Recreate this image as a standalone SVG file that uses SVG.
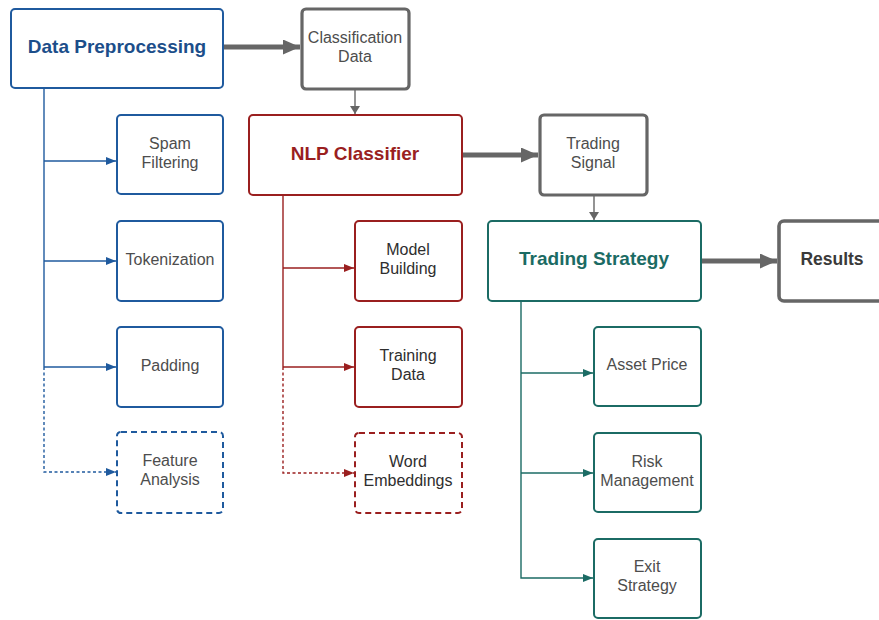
<svg xmlns="http://www.w3.org/2000/svg" width="879" height="620" viewBox="0 0 879 620">
<defs>
<style>
text{font-family:"Liberation Sans",Arial,sans-serif;text-anchor:middle;dominant-baseline:central}
.t{font-size:16px;fill:#4d4d4d}
.td{font-size:16px;fill:#2e2e2e}
.h{font-size:19px;font-weight:bold}
.bb{fill:#fff;stroke:#1f5a9e;stroke-width:2}
.rb{fill:#fff;stroke:#9a1f1f;stroke-width:2}
.gb{fill:#fff;stroke:#1b6b64;stroke-width:2}
.kb{fill:#fff;stroke:#666;stroke-width:3.2}
.dash{stroke-dasharray:6 4}
.bl{fill:none;stroke:#1f5a9e;stroke-width:1.4}
.rl{fill:none;stroke:#9a1f1f;stroke-width:1.4}
.gl{fill:none;stroke:#1b6b64;stroke-width:1.4}
.kl{fill:none;stroke:#666;stroke-width:1.4}
.thick{fill:none;stroke:#666;stroke-width:5}
.dl{stroke-dasharray:3 2.5}
</style>
<marker id="ab" viewBox="0 0 10 8" refX="10" refY="4" markerWidth="10" markerHeight="8" markerUnits="userSpaceOnUse" orient="auto"><path d="M0,0L10,4L0,8z" fill="#1f5a9e"/></marker>
<marker id="ar" viewBox="0 0 10 8" refX="10" refY="4" markerWidth="10" markerHeight="8" markerUnits="userSpaceOnUse" orient="auto"><path d="M0,0L10,4L0,8z" fill="#9a1f1f"/></marker>
<marker id="ag" viewBox="0 0 10 8" refX="10" refY="4" markerWidth="10" markerHeight="8" markerUnits="userSpaceOnUse" orient="auto"><path d="M0,0L10,4L0,8z" fill="#1b6b64"/></marker>
<marker id="ak" viewBox="0 0 8 10" refX="8" refY="5" markerWidth="8" markerHeight="10" markerUnits="userSpaceOnUse" orient="auto"><path d="M0,0L8,5L0,10z" fill="#666"/></marker>
<marker id="at" viewBox="0 0 17 15" refX="17" refY="7.5" markerWidth="17" markerHeight="15" markerUnits="userSpaceOnUse" orient="auto"><path d="M0,0L17,7.5L0,15z" fill="#666"/></marker>
</defs>
<rect width="879" height="620" fill="#fff"/>

<g id="connectors">
<line class="thick" x1="224" y1="47" x2="300" y2="47" marker-end="url(#at)"/>
<line class="thick" x1="463" y1="155" x2="538" y2="155" marker-end="url(#at)"/>
<line class="thick" x1="702" y1="261" x2="777" y2="261" marker-end="url(#at)"/>
<line class="kl" x1="355" y1="90" x2="355" y2="114" marker-end="url(#ak)"/>
<line class="kl" x1="594" y1="196" x2="594" y2="220" marker-end="url(#ak)"/>

<path class="bl" d="M44,89V367"/>
<path class="bl dl" d="M44,367V472H116" marker-end="url(#ab)"/>
<path class="bl" d="M44,161H116" marker-end="url(#ab)"/>
<path class="bl" d="M44,261H116" marker-end="url(#ab)"/>
<path class="bl" d="M44,367H116" marker-end="url(#ab)"/>

<path class="rl" d="M283,196V367"/>
<path class="rl dl" d="M283,367V473H354" marker-end="url(#ar)"/>
<path class="rl" d="M283,268H354" marker-end="url(#ar)"/>
<path class="rl" d="M283,367H354" marker-end="url(#ar)"/>

<path class="gl" d="M521,302V578H593" marker-end="url(#ag)"/>
<path class="gl" d="M521,373H593" marker-end="url(#ag)"/>
<path class="gl" d="M521,473H593" marker-end="url(#ag)"/>
</g>

<g id="data-preprocessing"><rect class="bb" x="11" y="9" width="212" height="79" rx="4"/><text class="h" x="117" y="46" fill="#1c4e8a">Data Preprocessing</text></g>
<g id="classification-data"><rect class="kb" x="302" y="9" width="107" height="80" rx="4"/><text class="t" x="355" y="37">Classification</text><text class="t" x="355" y="56">Data</text></g>
<g id="spam-filtering"><rect class="bb" x="117" y="115" width="106" height="79" rx="4"/><text class="t" x="170" y="143">Spam</text><text class="t" x="170" y="162">Filtering</text></g>
<g id="tokenization"><rect class="bb" x="117" y="221" width="106" height="80" rx="4"/><text class="t" x="170" y="259">Tokenization</text></g>
<g id="padding"><rect class="bb" x="117" y="327" width="106" height="80" rx="4"/><text class="t" x="170" y="365">Padding</text></g>
<g id="feature-analysis"><rect class="bb dash" x="117" y="432" width="106" height="81" rx="4"/><text class="t" x="170" y="460">Feature</text><text class="t" x="170" y="479">Analysis</text></g>

<g id="nlp-classifier"><rect class="rb" x="249" y="115" width="213" height="80" rx="4"/><text class="h" x="355" y="153" fill="#9a1f1f">NLP Classifier</text></g>
<g id="model-building"><rect class="rb" x="355" y="221" width="107" height="80" rx="4"/><text class="td" x="408" y="249">Model</text><text class="td" x="408" y="268">Building</text></g>
<g id="training-data"><rect class="rb" x="355" y="327" width="107" height="80" rx="4"/><text class="td" x="408" y="355">Training</text><text class="td" x="408" y="374">Data</text></g>
<g id="word-embeddings"><rect class="rb dash" x="355" y="433" width="107" height="80" rx="4"/><text class="td" x="408" y="461">Word</text><text class="td" x="408" y="480">Embeddings</text></g>

<g id="trading-signal"><rect class="kb" x="540" y="115" width="107" height="80" rx="4"/><text class="t" x="593" y="143">Trading</text><text class="t" x="593" y="162">Signal</text></g>
<g id="trading-strategy"><rect class="gb" x="488" y="221" width="213" height="80" rx="4"/><text class="h" x="594" y="258" fill="#1b6b64">Trading Strategy</text></g>
<g id="results"><rect x="779" y="221" width="120" height="80" rx="5" fill="#fff" stroke="#666" stroke-width="3.6"/><text class="h" x="832" y="259" fill="#3a3a3a" style="font-size:17.5px">Results</text></g>
<g id="asset-price"><rect class="gb" x="594" y="327" width="107" height="79" rx="4"/><text class="t" x="647" y="364">Asset Price</text></g>
<g id="risk-management"><rect class="gb" x="594" y="433" width="107" height="79" rx="4"/><text class="t" x="647" y="461">Risk</text><text class="t" x="647" y="480">Management</text></g>
<g id="exit-strategy"><rect class="gb" x="594" y="539" width="107" height="79" rx="4"/><text class="t" x="647" y="566">Exit</text><text class="t" x="647" y="585">Strategy</text></g>
</svg>
